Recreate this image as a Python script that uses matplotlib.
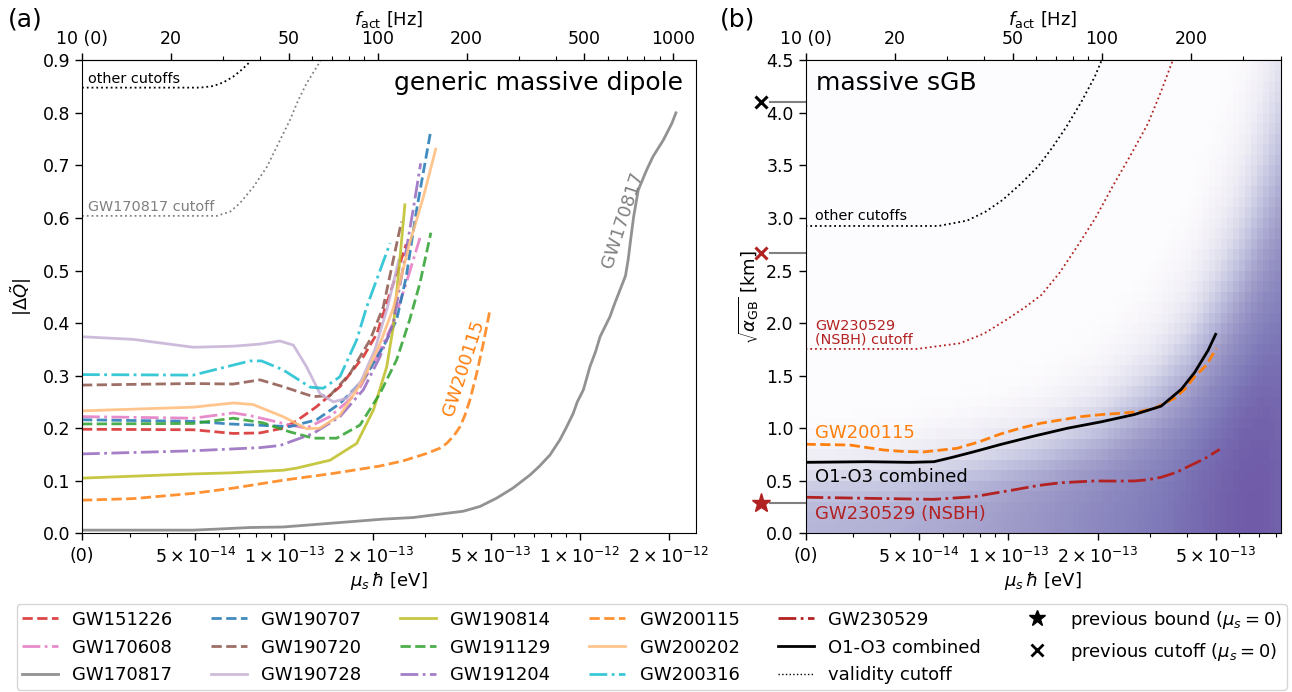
import numpy as np
import matplotlib.pyplot as plt
from matplotlib.lines import Line2D
from matplotlib.ticker import NullFormatter

# conversion mu_s*hbar [eV] -> activation frequency [Hz]  (f = 2 mu / h)
K_HZ = 4.836e14

# ---------------- panel (a): generic massive dipole, x = f_act [Hz] ----------------
gw151226_f = [10, 23.8, 32.5, 40.0, 47.9, 53.2, 62.2, 74.6, 89.5, 99.5, 107.4, 117, 125]
gw151226_q = [0.198, 0.197, 0.190, 0.191, 0.200, 0.214, 0.241, 0.279, 0.336, 0.380, 0.438, 0.50, 0.55]

gw170608_f = [10, 23.8, 32.5, 37.0, 43.3, 50.5, 57.5, 69.0, 85.0, 99.5, 113.0, 125.0, 139.1]
gw170608_q = [0.222, 0.219, 0.229, 0.224, 0.215, 0.206, 0.200, 0.222, 0.266, 0.336, 0.400, 0.476, 0.562]

gw170817_f = [10, 23.8, 28.6, 37, 47.9, 62.2, 80.7, 104.6, 131.9, 171, 195, 222, 253, 287,
              328, 352, 383, 414, 434, 459, 474, 497, 523, 546, 566, 611, 635, 661, 690,
              705, 718, 735, 762, 813, 855, 926, 990, 1022]
gw170817_q = [0.006, 0.006, 0.008, 0.011, 0.012, 0.017, 0.022, 0.027, 0.030, 0.038, 0.042,
              0.051, 0.067, 0.086, 0.111, 0.127, 0.149, 0.178, 0.200, 0.228, 0.250, 0.273,
              0.317, 0.345, 0.374, 0.412, 0.438, 0.463, 0.490, 0.522, 0.558, 0.602, 0.653,
              0.691, 0.717, 0.748, 0.780, 0.800]

gw190707_f = [10, 23.8, 31.7, 50.5, 62.2, 74.6, 89.5, 104.6, 116.0, 125.0, 135.5, 150.7]
gw190707_q = [0.216, 0.213, 0.208, 0.203, 0.216, 0.247, 0.292, 0.355, 0.406, 0.488, 0.615, 0.760]

gw190720_f = [10, 23.8, 32.5, 40.0, 47.9, 60.6, 69.0, 80.7, 94.3, 104.6, 112, 120.4]
gw190720_q = [0.282, 0.285, 0.284, 0.292, 0.279, 0.260, 0.262, 0.304, 0.368, 0.431, 0.51, 0.593]

gw190728_f = [10, 14.9, 23.8, 32.5, 40.0, 46.7, 51.9, 57.5, 63.8, 70.9, 78.7, 88, 98, 108, 118]
gw190728_q = [0.374, 0.369, 0.354, 0.356, 0.360, 0.366, 0.358, 0.317, 0.266, 0.250, 0.257,
              0.29, 0.35, 0.43, 0.52]

gw190814_f = [10, 23.8, 31.7, 47.9, 53.2, 69.0, 85.0, 96.9, 107.4, 113.0, 118, 123.7]
gw190814_q = [0.105, 0.113, 0.115, 0.120, 0.124, 0.139, 0.171, 0.235, 0.317, 0.393, 0.50, 0.625]

gw191129_f = [10, 23.8, 32.5, 41.1, 50.5, 60.6, 72.7, 87.2, 101.9, 116.0, 128.4, 139.1, 151.5]
gw191129_q = [0.208, 0.209, 0.219, 0.210, 0.193, 0.181, 0.181, 0.206, 0.266, 0.330, 0.406, 0.476, 0.572]

gw191204_f = [10, 23.8, 40.0, 46.7, 60.6, 74.6, 89.5, 101.9, 113.0, 125.0, 131.9, 139.9]
gw191204_q = [0.151, 0.157, 0.163, 0.167, 0.190, 0.222, 0.273, 0.336, 0.400, 0.539, 0.615, 0.704]

gw200115_f = [10, 14.9, 23.8, 32.5, 47.9, 70.9, 91.9, 101.9, 122.3, 146.8, 162.6, 171.3, 182,
              190.2, 197.6, 205.4, 216.4, 227.9, 240]
gw200115_q = [0.063, 0.066, 0.076, 0.086, 0.101, 0.114, 0.124, 0.128, 0.138, 0.152, 0.162,
              0.171, 0.187, 0.203, 0.225, 0.254, 0.304, 0.361, 0.425]

gw200202_f = [10, 23.8, 32.5, 37.9, 47.9, 57.5, 63.8, 74.6, 89.5, 101.9, 113.0, 128.4, 142.9, 157.3]
gw200202_q = [0.233, 0.240, 0.248, 0.245, 0.222, 0.199, 0.200, 0.225, 0.292, 0.361, 0.428,
              0.552, 0.640, 0.731]

gw200316_f = [10, 23.8, 37.0, 40.5, 47.9, 59.2, 65.5, 74.6, 85.0, 91.9, 110.2]
gw200316_q = [0.302, 0.301, 0.328, 0.328, 0.311, 0.278, 0.276, 0.298, 0.368, 0.431, 0.552]

cut_other_a_f = [10, 18, 25.1, 27.8, 30.1, 32.5, 34.7, 37.0, 37.8]
cut_other_a_q = [0.848, 0.848, 0.848, 0.851, 0.858, 0.869, 0.882, 0.897, 0.91]
cut_170817_f = [10, 20, 28.6, 31.7, 34.2, 38.0, 42.2, 46.2, 50.5, 53.9, 57.5, 63.8, 65]
cut_170817_q = [0.604, 0.604, 0.604, 0.612, 0.628, 0.659, 0.697, 0.742, 0.786, 0.824,
                0.856, 0.897, 0.91]

# ---------------- panel (b): massive sGB ----------------
o1o3_f = [10, 16.1, 22.6, 27.1, 31, 37.0, 45.5, 59.0, 76.6, 99.2, 128.6, 158.4, 185.1,
          205.3, 227.9, 241.7]
o1o3_a = [0.675, 0.681, 0.675, 0.681, 0.72, 0.776, 0.845, 0.925, 1.0, 1.06, 1.13, 1.21,
          1.37, 1.53, 1.74, 1.893]

gw200115_b_f = [10, 14.1, 18.3, 21, 25.0, 32.5, 38.5, 45.5, 53, 62.2, 84.9, 100, 116, 135,
                150.3, 175.6, 190, 205.4, 225, 243.1]
gw200115_b_a = [0.847, 0.840, 0.793, 0.78, 0.774, 0.809, 0.87, 0.945, 1.0, 1.047, 1.110,
                1.13, 1.142, 1.16, 1.189, 1.285, 1.37, 1.490, 1.60, 1.760]

gw230529_f = [10, 16.1, 27.1, 37.0, 44, 51.8, 61, 72.6, 94.2, 110, 128.6, 143, 158.4, 178,
              195, 222, 249.4]
gw230529_a = [0.343, 0.333, 0.323, 0.348, 0.385, 0.419, 0.455, 0.481, 0.498, 0.497, 0.498,
              0.51, 0.533, 0.58, 0.634, 0.71, 0.799]

cut_other_b_f = [10, 20, 28.1, 35.1, 40.5, 46.2, 53, 60.8, 68, 75.9, 85, 94.6, 99.4, 101]
cut_other_b_a = [2.924, 2.924, 2.924, 2.975, 3.06, 3.171, 3.32, 3.488, 3.67, 3.869, 4.10,
                 4.345, 4.49, 4.55]
cut_nsbh_f = [10, 20, 23.8, 33.2, 40, 47.5, 55, 62.6, 72, 82.4, 95, 108.5, 125, 143, 158,
              172.6, 175]
cut_nsbh_a = [1.754, 1.754, 1.754, 1.808, 1.90, 2.03, 2.15, 2.27, 2.48, 2.727, 3.0, 3.298,
              3.6, 3.90, 4.2, 4.487, 4.55]

prev_bound = 0.285          # star, GW230529
prev_cut_nsbh = 2.664       # red x
prev_cut_other = 4.107      # black x

# posterior shading: colour level at bottom and fall-off height
bg_f = [10, 20, 35, 60, 100, 150, 200, 250, 300, 350, 400]
bg_level = [0.40, 0.42, 0.46, 0.52, 0.58, 0.63, 0.67, 0.70, 0.72, 0.72, 0.70]
bg_height = [0.70, 0.75, 0.85, 1.0, 1.25, 1.6, 2.0, 2.5, 3.0, 3.6, 4.2]

mu_major = [5e-14, 1e-13, 2e-13, 5e-13, 1e-12, 2e-12]
mu_major_lbl = [r'$5\times10^{-14}$', r'$1\times10^{-13}$', r'$2\times10^{-13}$',
                r'$5\times10^{-13}$', r'$1\times10^{-12}$', r'$2\times10^{-12}$']
mu_minor = [3e-14, 4e-14, 6e-14, 7e-14, 8e-14, 9e-14, 3e-13, 4e-13, 6e-13, 7e-13, 8e-13, 9e-13]
f_major = [10, 20, 50, 100, 200, 500, 1000]
f_major_lbl = ['10 (0)', '20', '50', '100', '200', '500', '1000']
f_minor = [30, 40, 60, 70, 80, 90, 300, 400, 600, 700, 800, 900]

TS = 12.5
fig = plt.figure(figsize=(12.92, 6.92), dpi=100)
axa = fig.add_axes([82/1292, 1-533.3/692, 614/1292, 473/692])
axb = fig.add_axes([805.5/1292, 1-533.3/692, 475/1292, 473/692])


def setup_x(ax, fmax):
    ax.set_xscale('log')
    ax.set_xlim(10, fmax)
    pos = [10] + [K_HZ*m for m in mu_major if K_HZ*m <= fmax]
    lbl = ['(0)'] + [l for m, l in zip(mu_major, mu_major_lbl) if K_HZ*m <= fmax]
    ax.set_xticks(pos, labels=lbl)
    ax.set_xticks([K_HZ*m for m in mu_minor if K_HZ*m <= fmax], minor=True)
    ax.xaxis.set_minor_formatter(NullFormatter())
    ax.set_xlabel(r'$\mu_s\,\hbar$ [eV]', fontsize=13, labelpad=2)
    sec = ax.secondary_xaxis('top')
    sec.set_xticks([f for f in f_major if f <= fmax],
                   labels=[l for f, l in zip(f_major, f_major_lbl) if f <= fmax])
    sec.set_xticks([f for f in f_minor if f <= fmax], minor=True)
    sec.xaxis.set_minor_formatter(NullFormatter())
    sec.set_xlabel(r'$f_{\rm act}$ [Hz]', fontsize=13, labelpad=4)
    sec.tick_params(labelsize=TS, length=5, width=1)
    sec.tick_params(which='minor', length=3, width=0.8)
    ax.tick_params(labelsize=TS, length=5, width=1)
    ax.tick_params(which='minor', length=3, width=0.8)
    ax.tick_params(axis='x', which='major', pad=5)


# ---------------- panel (a) ----------------
curves_a = [
    ('GW151226', gw151226_f, gw151226_q, 'tab:red', '--'),
    ('GW170608', gw170608_f, gw170608_q, 'tab:pink', '-.'),
    ('GW170817', gw170817_f, gw170817_q, 'tab:gray', '-'),
    ('GW190707', gw190707_f, gw190707_q, 'tab:blue', '--'),
    ('GW190720', gw190720_f, gw190720_q, 'tab:brown', '--'),
    ('GW190728', gw190728_f, gw190728_q, '#c5b0d5', '-'),
    ('GW190814', gw190814_f, gw190814_q, 'tab:olive', '-'),
    ('GW191129', gw191129_f, gw191129_q, 'tab:green', '--'),
    ('GW191204', gw191204_f, gw191204_q, 'tab:purple', '-.'),
    ('GW200115', gw200115_f, gw200115_q, 'tab:orange', '--'),
    ('GW200202', gw200202_f, gw200202_q, '#ffbb78', '-'),
    ('GW200316', gw200316_f, gw200316_q, 'tab:cyan', '-.'),
]
handles = []
for name, f, q, c, ls in curves_a:
    h, = axa.plot(f, q, color=c, ls=ls, lw=2, alpha=0.85, label=name)
    handles.append(h)

axa.plot(cut_other_a_f, cut_other_a_q, 'k:', lw=1.3)
axa.plot(cut_170817_f, cut_170817_q, ':', color='gray', lw=1.3)
axa.text(10.48, 0.851, 'other cutoffs', fontsize=10.4, va='bottom')
axa.text(10.48, 0.607, 'GW170817 cutoff', fontsize=10.4, va='bottom', color='gray')
axa.text(674, 0.596, 'GW170817', color='gray', fontsize=13, rotation=72,
         ha='center', va='center')
axa.text(196, 0.315, 'GW200115', color='tab:orange', fontsize=13, rotation=72,
         ha='center', va='center')
axa.text(0.979, 0.978, 'generic massive dipole', transform=axa.transAxes,
         fontsize=18, ha='right', va='top')
axa.set_ylim(0, 0.9)
axa.set_yticks(np.arange(0, 0.91, 0.1))
axa.set_ylabel(r'$|\Delta\tilde{Q}|$', fontsize=13, labelpad=6)
setup_x(axa, 1195)

# ---------------- panel (b) ----------------
xe = np.geomspace(10, 400, 81)
ye = np.linspace(0, 4.5, 46)
xc = np.sqrt(xe[:-1]*xe[1:])
yc = 0.5*(ye[:-1] + ye[1:])
lev = np.interp(np.log(xc), np.log(bg_f), bg_level)
hgt = np.interp(np.log(xc), np.log(bg_f), bg_height)
shade = lev[None, :]*np.exp(-(yc[:, None]/hgt[None, :])**3)
axb.pcolormesh(xe, ye, shade, cmap='Purples', vmin=0, vmax=1, shading='flat',
               rasterized=True)

axb.plot(cut_other_b_f, cut_other_b_a, 'k:', lw=1.3)
axb.plot(cut_nsbh_f, cut_nsbh_a, ':', color='#b22222', lw=1.3)
axb.plot(gw200115_b_f, gw200115_b_a, '--', color='tab:orange', lw=2)
axb.plot(o1o3_f, o1o3_a, '-', color='k', lw=2)
axb.plot(gw230529_f, gw230529_a, '-.', color='#b22222', lw=2)

tr = axb.get_yaxis_transform()
for yv in [prev_cut_other, prev_cut_nsbh, prev_bound]:
    axb.plot([-0.075, 0], [yv, yv], color='gray', lw=1.5, transform=tr, clip_on=False)
axb.plot([-0.093], [prev_cut_other], 'kx', ms=9, mew=2.2, transform=tr, clip_on=False)
axb.plot([-0.093], [prev_cut_nsbh], 'x', color='#b22222', ms=9, mew=2.2, transform=tr,
         clip_on=False)
axb.plot([-0.093], [prev_bound], '*', color='#b22222', ms=14, transform=tr, clip_on=False)

axb.text(10.77, 2.95, 'other cutoffs', fontsize=10.4, va='bottom')
axb.text(10.77, 1.775, 'GW230529\n(NSBH) cutoff', fontsize=10.4, va='bottom',
         color='#b22222', linespacing=1.0)
axb.text(10.77, 0.902, 'GW200115', fontsize=13, va='baseline', color='tab:orange')
axb.text(10.77, 0.491, 'O1-O3 combined', fontsize=13, va='baseline', color='k')
axb.text(10.77, 0.133, 'GW230529 (NSBH)', fontsize=13, va='baseline', color='#b22222')
axb.text(0.022, 0.978, 'massive sGB', transform=axb.transAxes, fontsize=18,
         ha='left', va='top')
axb.set_ylim(0, 4.5)
axb.set_yticks(np.arange(0, 4.51, 0.5))
axb.set_ylabel(r'$\sqrt{\alpha_{\rm GB}}$ [km]', fontsize=13, labelpad=4)
setup_x(axb, 400)

fig.text(8/1292, 1-19/692, '(a)', fontsize=18, va='center')
fig.text(720/1292, 1-19/692, '(b)', fontsize=18, va='center')

# ---------------- legend ----------------
handles += [
    Line2D([], [], color='#b22222', ls='-.', lw=2),
    Line2D([], [], color='k', ls='-', lw=2),
    Line2D([], [], color='k', ls=':', lw=1),
    Line2D([], [], color='k', marker='*', ls='none', ms=12),
    Line2D([], [], color='k', marker='x', ls='none', ms=9, mew=2),
]
labels = [c[0] for c in curves_a] + ['GW230529', 'O1-O3 combined', 'validity cutoff',
                                     r'previous bound ($\mu_s=0$)',
                                     r'previous cutoff ($\mu_s=0$)']
fig.legend(handles, labels, ncol=6, fontsize=13, loc='lower center',
           bbox_to_anchor=(0.5045, -0.0095), labelspacing=0.55, borderpad=0.28,
           columnspacing=2.12)

fig.savefig('out.png', dpi=100)
